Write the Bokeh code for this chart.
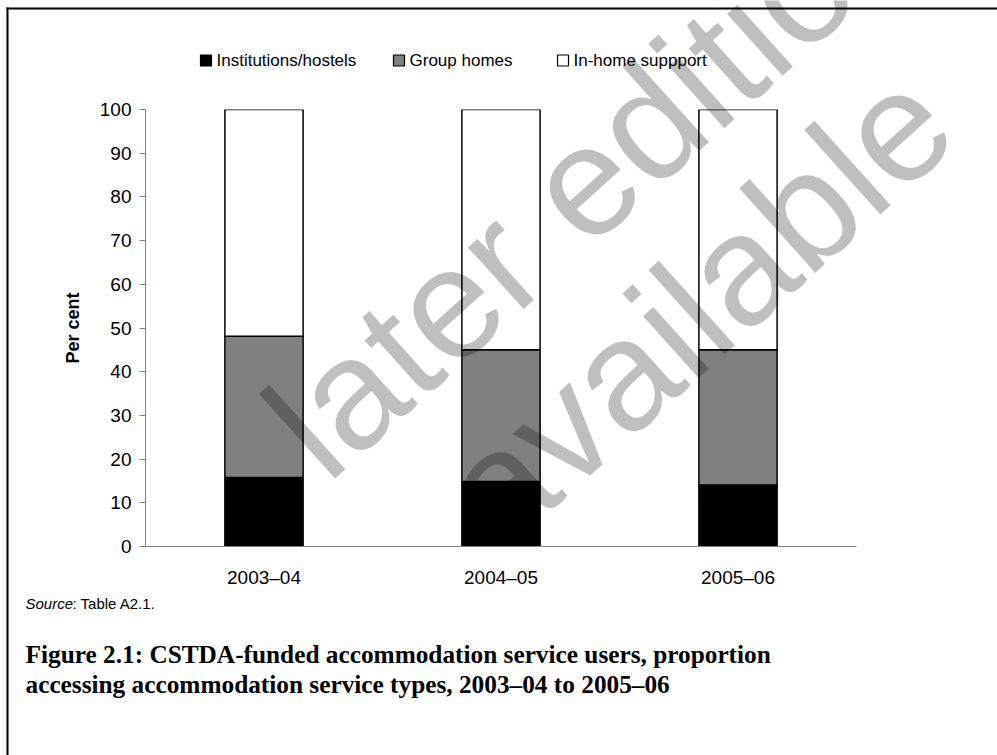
import numpy as np
from bokeh.plotting import figure
from bokeh.layouts import column
from bokeh.models import (Range1d, FactorRange, Label, BoxAnnotation,
                          FixedTicker, ColumnDataSource)
from bokeh.embed import file_html
from bokeh.resources import INLINE

# ---------------- data ----------------
years = ["2003\u201304", "2004\u201305", "2005\u201306"]
institutions = [15.8, 14.9, 14.1]
group_homes = [32.3, 30.1, 30.9]
in_home = [51.9, 55.0, 55.0]
series_names = ["Institutions/hostels", "Group homes", "In-home suppport"]
series_colors = ["#000000", "#808080", "#ffffff"]
y_ticks = [0, 10, 20, 30, 40, 50, 60, 70, 80, 90, 100]
source_lead = "Source"
source_text = ": Table A2.1."
caption_lines = ["Figure 2.1: CSTDA-funded accommodation service users, proportion",
                 "accessing accommodation service types, 2003\u201304 to 2005\u201306"]
watermark_lines = ["later edition", "available"]

# ---------------- layout (pixels) ----------------
W, H = 997, 755
FL, FR, FT, FB = 145, 856, 109, 546   # chart frame edges
font = "Liberation Sans"

# ---------- main chart ----------
p = figure(width=W, height=H, x_range=FactorRange(*years), y_range=Range1d(0, 100),
           output_backend="svg", toolbar_location=None,
           min_border_left=FL, min_border_right=W - FR,
           min_border_top=FT, min_border_bottom=H - FB)
p.outline_line_color = None
p.grid.visible = False

src = ColumnDataSource(dict(x=years, inst=institutions, grp=group_homes, home=in_home))
p.vbar_stack(["inst", "grp", "home"], x="x", width=0.33, source=src,
             fill_color=series_colors, line_color="#000000", line_width=1.5)

p.yaxis.ticker = FixedTicker(ticks=y_ticks)
p.yaxis.minor_tick_line_color = None
p.yaxis.major_tick_out = 6
p.yaxis.major_tick_in = 0
p.yaxis.axis_line_color = "#808080"
p.yaxis.major_tick_line_color = "#808080"
p.yaxis.major_label_text_font = font
p.yaxis.major_label_text_font_size = "19px"
p.yaxis.major_label_text_color = "black"
p.yaxis.major_label_standoff = 8
p.yaxis.axis_label = "Per cent"
p.yaxis.axis_label_text_font = font
p.yaxis.axis_label_text_font_size = "18px"
p.yaxis.axis_label_text_font_style = "bold"
p.yaxis.axis_label_text_color = "black"
p.yaxis.axis_label_standoff = 14

p.xaxis.axis_line_color = "#808080"
p.xaxis.major_tick_line_color = None
p.xaxis.minor_tick_line_color = None
p.xaxis.major_label_text_font = font
p.xaxis.major_label_text_font_size = "19px"
p.xaxis.major_label_text_color = "black"
p.xaxis.major_label_standoff = 14

# ---------- overlay (legend, notes, watermark, page border) ----------
q = figure(width=W, height=H, x_range=Range1d(0, W), y_range=Range1d(H, 0),
           output_backend="svg", toolbar_location=None,
           x_axis_location=None, y_axis_location=None,
           min_border=0, min_border_left=0, min_border_right=0,
           min_border_top=0, min_border_bottom=0)
q.outline_line_color = None
q.grid.visible = False
q.background_fill_alpha = 0
q.border_fill_alpha = 0
q.margin = (-H, 0, 0, 0)
for fig in (p, q):
    if hasattr(fig, "frame_align"):
        fig.frame_align = False

# legend: swatch + label for each series
leg_x = [200, 393, 557]
leg_y = 60
q.scatter(x=[lx + 5.5 for lx in leg_x], y=[leg_y] * len(leg_x), marker="square",
          size=11, fill_color=series_colors, line_color="#000000", line_width=1.2)
for name, lx in zip(series_names, leg_x):
    q.add_layout(Label(x=lx + 16, y=leg_y, text=name, text_font=font,
                       text_font_size="17px", text_color="black",
                       text_baseline="middle", text_align="left"))

# watermark
ang = np.deg2rad(42)
wm_centres = [(592, 173), (696, 306)]
for t, (cx, cy) in zip(watermark_lines, wm_centres):
    q.add_layout(Label(x=cx, y=cy, text=t, angle=ang,
                       text_align="center", text_baseline="alphabetic",
                       text_font=font, text_font_size="157px",
                       text_color="black", text_alpha=0.25))

# source note
q.add_layout(Label(x=25, y=603, text=source_lead, text_font=font,
                   text_font_size="15px", text_font_style="italic",
                   text_color="black", text_baseline="middle", text_align="left"))
q.add_layout(Label(x=25 + 47, y=603, text=source_text, text_font=font,
                   text_font_size="15px", text_color="black",
                   text_baseline="middle", text_align="left"))

# caption
for i, line in enumerate(caption_lines):
    q.add_layout(Label(x=25, y=653 + 30 * i, text=line,
                       text_font="Liberation Serif", text_font_size="25.3px",
                       text_font_style="bold", text_color="black",
                       text_baseline="middle", text_align="left"))

# page border (top and left)
q.add_layout(BoxAnnotation(left=6, right=W + 5, top=7, bottom=9,
                           fill_color="black", fill_alpha=1, line_alpha=0))
q.add_layout(BoxAnnotation(left=6, right=8, top=7, bottom=H + 5,
                           fill_color="black", fill_alpha=1, line_alpha=0))

layout = column(p, q, spacing=0)
open("out.html", "w").write(file_html(layout, INLINE))
